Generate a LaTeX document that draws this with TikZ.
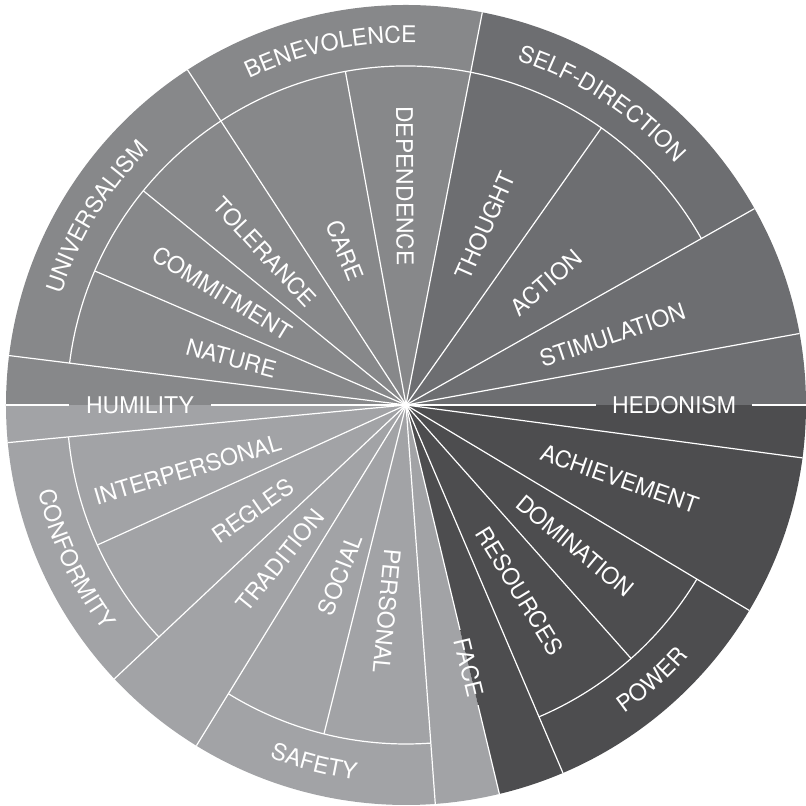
\documentclass[tikz,border=0pt]{standalone}
\usepackage{fontspec}
\setmainfont{TeX Gyre Heros}
\usetikzlibrary{decorations.text}
\definecolor{opencol}{HTML}{6D6E71}
\definecolor{transcol}{HTML}{87888A}
\definecolor{conscol}{HTML}{A2A3A6}
\definecolor{enhcol}{HTML}{4D4D4F}
\newcommand{\lblfont}{\fontsize{23}{27}\selectfont}
\begin{document}
\begin{tikzpicture}[x=1pt,y=1pt,
	sep/.style={white, line width=1.2pt},
	lbl/.style={text=white, font=\lblfont, inner sep=0pt},
	ring/.style={decorate, decoration={text along path, text align=center,
		text color=white, text={|\lblfont|#1}}}]
	\useasboundingbox (-406,-401) rectangle (400,405);
	\coordinate (o) at (0,0);
	\fill[opencol] (o) -- (0:400) arc[start angle=0, end angle=79, radius=400] -- cycle;
	\fill[transcol] (o) -- (79:400) arc[start angle=79, end angle=180, radius=400] -- cycle;
	\fill[conscol] (o) -- (180:400) arc[start angle=180, end angle=283.5, radius=400] -- cycle;
	\fill[enhcol] (o) -- (283.5:400) arc[start angle=283.5, end angle=360, radius=400] -- cycle;
	\foreach \a in {10.3,29.4,79,123.1,172.9,185.4,223.2,238.4,274.2,293.1,329.1,352.4}
		\draw[sep] (o) -- (\a:400);
	\foreach \a in {54.8,100.3,140.8,156.7,204.4,256,311.6}
		\draw[sep] (o) -- (\a:339);
	\draw[sep] (29.4:339) arc[start angle=29.4, end angle=172.9, radius=339];
	\draw[sep] (185.4:339) arc[start angle=185.4, end angle=223.2, radius=339];
	\draw[sep] (238.4:339) arc[start angle=238.4, end angle=274.2, radius=339];
	\draw[sep] (293.1:339) arc[start angle=293.1, end angle=329.1, radius=339];
	\node[lbl, inner xsep=16pt] (hedonism) at (0:268) {HEDONISM};
	\draw[sep] (o) -- (hedonism.west);
	\draw[sep] (hedonism.east) -- (0:400);
	\node[lbl, inner xsep=17pt] (humility) at (180:266) {HUMILITY};
	\draw[sep] (180:400) -- (humility.west);
	\draw[sep] (humility.east) -- (o);
	\node[lbl, inner xsep=9pt, rotate=-76.5] (face) at (-76.5:270) {FACE};
	\draw[sep] (o) -- (face.west);
	\draw[sep] (face.east) -- (-76.5:400);
	\node[lbl, rotate=66.2] (thought) at (66.2:196) {THOUGHT};
	\node[lbl, rotate=41.1] (action) at (41.1:186) {ACTION};
	\node[lbl, rotate=18.7] (stimulation) at (18.7:218) {STIMULATION};
	\node[lbl, rotate=-89.7] (dependence) at (90.3:219) {DEPENDENCE};
	\node[lbl, rotate=-68.4] (care) at (111.6:166) {CARE};
	\node[lbl, rotate=-47.3] (tolerance) at (132.7:208) {TOLERANCE};
	\node[lbl, rotate=-31.3] (commitment) at (148.7:215) {COMMITMENT};
	\node[lbl, rotate=-15] (nature) at (165:181) {NATURE};
	\node[lbl, rotate=16.5] (interpersonal) at (196.5:228) {INTERPERSONAL};
	\node[lbl, rotate=34.7] (regles) at (214.7:186) {REGLES};
	\node[lbl, rotate=51] (tradition) at (231:200) {TRADITION};
	\node[lbl, rotate=68.8] (social) at (248.8:182) {SOCIAL};
	\node[lbl, rotate=-95.3] (personal) at (264.7:207) {PERSONAL};
	\node[lbl, rotate=-58.5] (resources) at (-58.5:218) {RESOURCES};
	\node[lbl, rotate=-39.8] (domination) at (-39.8:220) {DOMINATION};
	\node[lbl, rotate=-19.1] (achievement) at (-19.1:226) {ACHIEVEMENT};
	\path[ring=BENEVOLENCE] (127:362) arc[start angle=127, end angle=77, radius=362];
	\path[ring=SELF-DIRECTION] (82:362) arc[start angle=82, end angle=32, radius=362];
	\path[ring=UNIVERSALISM] (173.7:362) arc[start angle=173.7, end angle=123.7, radius=362];
	\path[ring=CONFORMITY] (180:378) arc[start angle=180, end angle=230, radius=378];
	\path[ring=SAFETY] (230.6:378) arc[start angle=230.6, end angle=280.6, radius=378];
	\path[ring=POWER] (-73.2:378) arc[start angle=-73.2, end angle=-23.2, radius=378];
\end{tikzpicture}
\end{document}
